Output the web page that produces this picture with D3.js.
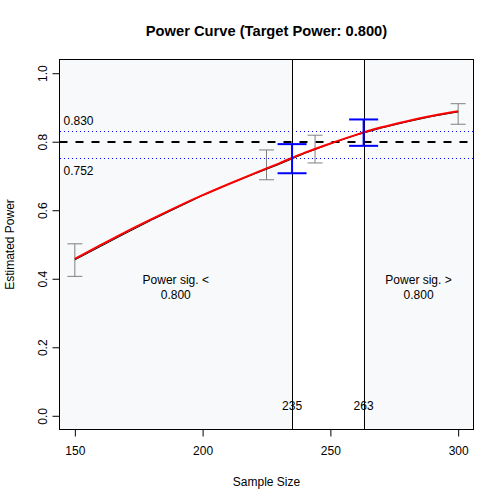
<!DOCTYPE html>
<html>
<head>
<meta charset="utf-8">
<script src="https://cdn.jsdelivr.net/npm/d3@7"></script>
<style>
  body { margin: 0; background: #fff; }
  text { font-family: "Liberation Sans", Arial, sans-serif; fill: #000; }
</style>
</head>
<body>
<div id="chart"></div>
<script>
const width = 504;
const height = 504;

// Smoothed power curve (red)
const smoothN = [150, 160, 170, 180, 190, 200, 210, 220, 230, 240, 250, 260, 270, 280, 290, 300];
const smoothPower = [0.458, 0.498, 0.537, 0.574, 0.610, 0.644, 0.676, 0.707, 0.737, 0.768, 0.795, 0.820, 0.842, 0.860, 0.876, 0.889];

// Simulated points (black line)
const simN = [150, 160, 170, 180, 190, 200, 210, 220, 230, 240, 250, 260, 270, 280, 290, 300];
const simPower = [0.455, 0.494, 0.533, 0.571, 0.607, 0.643, 0.675, 0.705, 0.734, 0.766, 0.794, 0.819, 0.840, 0.858, 0.874, 0.887];

// Gray confidence intervals
const ciN = [150, 225, 244, 300];
const ciLower = [0.407, 0.689, 0.738, 0.851];
const ciUpper = [0.502, 0.776, 0.819, 0.911];

// Blue intervals at the crossing sample sizes
const crossN = [235, 263];
const crossLower = [0.708, 0.788];
const crossUpper = [0.793, 0.865];
const crossLabels = ['235', '263'];

const targetPower = 0.8;
const bandPower = [0.830, 0.752];
const xTicks = [150, 200, 250, 300];
const yTicks = [0, 0.2, 0.4, 0.6, 0.8, 1.0];

// R style plot region
const x = d3.scaleLinear().domain([144, 306]).range([59.5, 473.5]);
const y = d3.scaleLinear().domain([-0.04, 1.04]).range([429.5, 59.5]);

const svg = d3.select('#chart')
  .append('svg')
  .attr('width', width)
  .attr('height', height);

const [x0, x1] = x.range();
const [yb, yt] = y.range();

// Shaded regions either side of the crossings
svg.append('rect')
  .attr('x', x0).attr('y', yt)
  .attr('width', x(crossN[0]) - x0).attr('height', yb - yt)
  .attr('fill', '#f7f9fa');
svg.append('rect')
  .attr('x', x(crossN[1])).attr('y', yt)
  .attr('width', x1 - x(crossN[1])).attr('height', yb - yt)
  .attr('fill', '#f7f9fa');

// Target and band lines
svg.append('line')
  .attr('x1', x0).attr('x2', x1)
  .attr('y1', Math.round(y(targetPower))).attr('y2', Math.round(y(targetPower)))
  .attr('stroke', '#000').attr('stroke-width', 2)
  .attr('stroke-dasharray', '8,8');

svg.selectAll('.band')
  .data(bandPower)
  .enter()
  .append('line')
  .attr('class', 'band')
  .attr('x1', x0).attr('x2', x1)
  .attr('y1', d => Math.round(y(d)) + 0.5).attr('y2', d => Math.round(y(d)) + 0.5)
  .attr('stroke', '#0000ff').attr('stroke-width', 1)
  .attr('shape-rendering', 'crispEdges')
  .attr('stroke-dasharray', '1,3');

svg.append('text')
  .attr('x', x0 + 4).attr('y', y(bandPower[0]) - 6)
  .style('font-size', '12px')
  .text(bandPower[0].toFixed(3));
svg.append('text')
  .attr('x', x0 + 4).attr('y', y(bandPower[1]) + 17)
  .style('font-size', '12px')
  .text(bandPower[1].toFixed(3));

// Vertical crossing lines
svg.selectAll('.vline')
  .data(crossN)
  .enter()
  .append('line')
  .attr('class', 'vline')
  .attr('x1', d => Math.round(x(d)) + 0.5).attr('x2', d => Math.round(x(d)) + 0.5)
  .attr('y1', yt).attr('y2', yb)
  .attr('stroke', '#000').attr('stroke-width', 1);

svg.selectAll('.vlabel')
  .data(crossN)
  .enter()
  .append('text')
  .attr('class', 'vlabel')
  .attr('x', d => x(d)).attr('y', y(0.028))
  .attr('dy', '0.35em')
  .style('text-anchor', 'middle')
  .style('font-size', '12px')
  .text((d, i) => crossLabels[i]);

// Error bars
const errBar = (sel, ns, lo, hi, color, lw, cap) => {
  ns.forEach((n, i) => {
    const g = sel.append('g').attr('stroke', color).attr('stroke-width', lw);
    g.append('line').attr('x1', x(n)).attr('x2', x(n)).attr('y1', y(lo[i])).attr('y2', y(hi[i]));
    g.append('line').attr('x1', x(n) - cap).attr('x2', x(n) + cap).attr('y1', y(lo[i])).attr('y2', y(lo[i]));
    g.append('line').attr('x1', x(n) - cap).attr('x2', x(n) + cap).attr('y1', y(hi[i])).attr('y2', y(hi[i]));
  });
};
errBar(svg, ciN, ciLower, ciUpper, '#808080', 1, 7.5);

// Curves
const line = d3.line().x(d => x(d[0])).y(d => y(d[1]));
svg.append('path')
  .datum(simN.map((n, i) => [n, simPower[i]]))
  .attr('d', line)
  .attr('fill', 'none').attr('stroke', '#000').attr('stroke-width', 1);
svg.append('path')
  .datum(smoothN.map((n, i) => [n, smoothPower[i]]))
  .attr('d', line.curve(d3.curveMonotoneX))
  .attr('fill', 'none').attr('stroke', '#ff0000').attr('stroke-width', 2);

errBar(svg, crossN, crossLower, crossUpper, '#0000ff', 2, 14.5);

// Region annotations
const regions = [
  { cx: (x0 + x(crossN[0])) / 2, label: 'Power sig. <' },
  { cx: (x(crossN[1]) + x1) / 2, label: 'Power sig. >' }
];
regions.forEach(r => {
  const t = svg.append('text')
    .style('text-anchor', 'middle')
    .style('font-size', '12px');
  t.append('tspan').attr('x', r.cx).attr('y', y(0.375) - 7.5).attr('dy', '0.35em').text(r.label);
  t.append('tspan').attr('x', r.cx).attr('y', y(0.375) + 7.5).attr('dy', '0.35em').text(targetPower.toFixed(3));
});

// Plot frame
svg.append('rect')
  .attr('x', x0).attr('y', yt)
  .attr('width', x1 - x0).attr('height', yb - yt)
  .attr('fill', 'none').attr('stroke', '#000').attr('stroke-width', 1);

// Axes
const xAxis = svg.append('g')
  .attr('transform', `translate(0,${yb})`)
  .call(d3.axisBottom(x).tickValues(xTicks).tickSize(7).tickPadding(10));
xAxis.select('.domain')
  .attr('d', `M${x(xTicks[0])},0H${x(xTicks[xTicks.length - 1])}`);
xAxis.selectAll('text').style('font-size', '12px').style('font-family', '"Liberation Sans", Arial, sans-serif');

const yAxis = svg.append('g')
  .attr('transform', `translate(${x0},0)`)
  .call(d3.axisLeft(y).tickValues(yTicks).tickSize(7).tickFormat(d3.format('.1f')));
yAxis.select('.domain')
  .attr('d', `M0,${y(0)}V${y(1)}`);
yAxis.selectAll('text')
  .style('font-size', '12px')
  .style('font-family', '"Liberation Sans", Arial, sans-serif')
  .attr('x', null).attr('dy', null)
  .attr('transform', 'translate(-17,0) rotate(-90)')
  .style('text-anchor', 'middle')
  .attr('dominant-baseline', 'central');

// Title and axis labels
svg.append('text')
  .attr('x', (x0 + x1) / 2).attr('y', 36)
  .style('text-anchor', 'middle')
  .style('font-size', '14.7px')
  .style('font-weight', 'bold')
  .text('Power Curve (Target Power: 0.800)');

svg.append('text')
  .attr('x', (x0 + x1) / 2).attr('y', 486)
  .style('text-anchor', 'middle')
  .style('font-size', '12px')
  .text('Sample Size');

svg.append('text')
  .attr('transform', `translate(14,${(yt + yb) / 2}) rotate(-90)`)
  .style('text-anchor', 'middle')
  .style('font-size', '12px')
  .text('Estimated Power');
</script>
</body>
</html>
